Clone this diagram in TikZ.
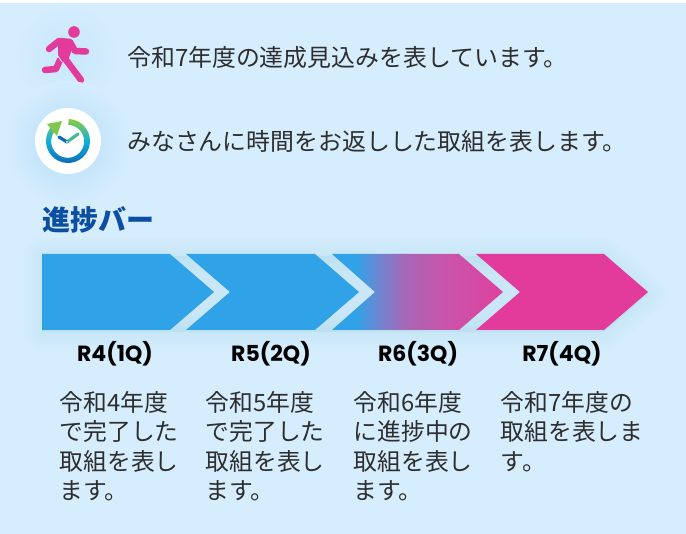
\documentclass[tikz,border=0pt]{standalone}
\usepackage{fontspec}
\setmainfont{Noto Sans CJK JP}
\newfontfamily\latinbold{Poppins}
\definecolor{paleblue}{HTML}{D5EDFD}
\definecolor{glowblue}{HTML}{B5DDF8}
\definecolor{barblue}{HTML}{30A3E8}
\definecolor{barpink}{HTML}{E23B9B}
\definecolor{headblue}{HTML}{0B4EA2}
\definecolor{inktext}{HTML}{2E2E2E}
\definecolor{ringgreen}{HTML}{8CCB3C}
\definecolor{ringcyan}{HTML}{0FB0DC}
\definecolor{ringblue}{HTML}{0A6CB8}
\definecolor{fadea}{HTML}{7A80CC}
\definecolor{fadeb}{HTML}{A866B5}
\definecolor{fadec}{HTML}{C955AB}
\definecolor{faded}{HTML}{DE419E}
\pgfdeclarehorizontalshading{barfade}{100bp}{
  color(0bp)=(barblue); color(32bp)=(barblue);
  color(40bp)=(fadea); color(47bp)=(fadeb);
  color(58bp)=(fadec); color(75bp)=(faded); color(100bp)=(faded)}
\tikzset{
  leadtext/.style={anchor=west,inner sep=0pt,text=inktext,font=\fontsize{23.9}{24}\selectfont},
  bartitle/.style={anchor=west,inner sep=0pt,text=headblue,font=\fontsize{28}{28}\selectfont\bfseries},
  quarter/.style={inner sep=0pt,text=black,font=\fontsize{22}{22}\selectfont\latinbold\bfseries},
  note/.style={anchor=north west,inner sep=0pt,text=inktext,align=left,
    font=\fontsize{23.8}{29.5}\selectfont},
  halo/.style={draw=barblue,fill=barblue,line join=round,opacity=0.013},
  limb/.style={barpink,line width=6.5,line cap=round,line join=round}
}
\begin{document}
\begin{tikzpicture}[x=1,y=-1]
\useasboundingbox (0,0) rectangle (686,534);
\fill[white] (0,0) rectangle (686,534);
\fill[paleblue] (0,3) rectangle (686,534);

% soft shadow round the bar
\foreach \w in {6,12,...,36}
  \draw[halo,line width=\w] (42,256) -- (604,256) -- (648,294) -- (604,332) -- (42,332) -- cycle;

\fill[barblue] (42,254) -- (170,254) -- (214,292) -- (170,330) -- (42,330) -- cycle;
\fill[barblue] (186,254) -- (315,254) -- (359,292) -- (315,330) -- (186,330) -- (230,292) -- cycle;
\shade[shading=barfade]
  (332,254) -- (459,254) -- (503,292) -- (459,330) -- (332,330) -- (375,292) -- cycle;
\fill[barpink] (476,254) -- (604,254) -- (648,292) -- (604,330) -- (476,330) -- (520,292) -- cycle;

% runner
\shade[inner color=glowblue!40!paleblue,outer color=paleblue,draw=none] (67,56) circle (52);
\fill[barpink] (74,32) circle (5.8);
\draw[limb] (49,49) -- (59,41) -- (70,42) -- (75,51) -- (86,51.5);
\fill[barpink] (58,40) -- (71,39) -- (73,46) -- (69,58) -- (58,57) -- cycle;
\draw[limb] (63,56) -- (81,80);
\draw[limb] (60,60) -- (56,69) -- (45,70);
\draw[paleblue,line width=0.8] (57,54.5) -- (62,62);

% clock
\shade[inner color=glowblue,outer color=paleblue,draw=none] (68,143) circle (62);
\fill[white] (68,141) circle (33);
\shade[top color=ringgreen,bottom color=ringblue,middle color=ringcyan]
  (68,141) ++(-88:22) arc[start angle=-88,end angle=222,radius=22]
  -- ++(47:5.5) arc[start angle=222,end angle=-88,radius=16.5] -- cycle;
\fill[ringgreen!90!ringcyan] (47,124) -- (62,121) -- (57,136) -- cycle;
\draw[ringgreen!45!ringcyan,line width=3.2,line cap=round] (67,142) -- (78,134);
\draw[ringblue,line width=3.2,line cap=round] (67,142) -- (59,137);
\fill[white] (67,142) circle (1);

\node[leadtext] (lead1) at (127,57) {令和7年度の達成見込みを表しています。};
\node[leadtext] (lead2) at (127,141) {みなさんに時間をお返しした取組を表します。};
\node[bartitle] (title) at (42,220) {進捗バー};

\node[quarter] (q1) at (115,354) {R4(1Q)};
\node[quarter] (q2) at (271,354) {R5(2Q)};
\node[quarter] (q3) at (418,354) {R6(3Q)};
\node[quarter] (q4) at (562,354) {R7(4Q)};

\node[note] (n1) at (59.5,391) {令和4年度\\で完了した\\取組を表し\\ます。};
\node[note] (n2) at (205.5,391) {令和5年度\\で完了した\\取組を表し\\ます。};
\node[note] (n3) at (353.5,391) {令和6年度\\に進捗中の\\取組を表し\\ます。};
\node[note] (n4) at (500.5,391) {令和7年度の\\取組を表しま\\す。};
\end{tikzpicture}
\end{document}
